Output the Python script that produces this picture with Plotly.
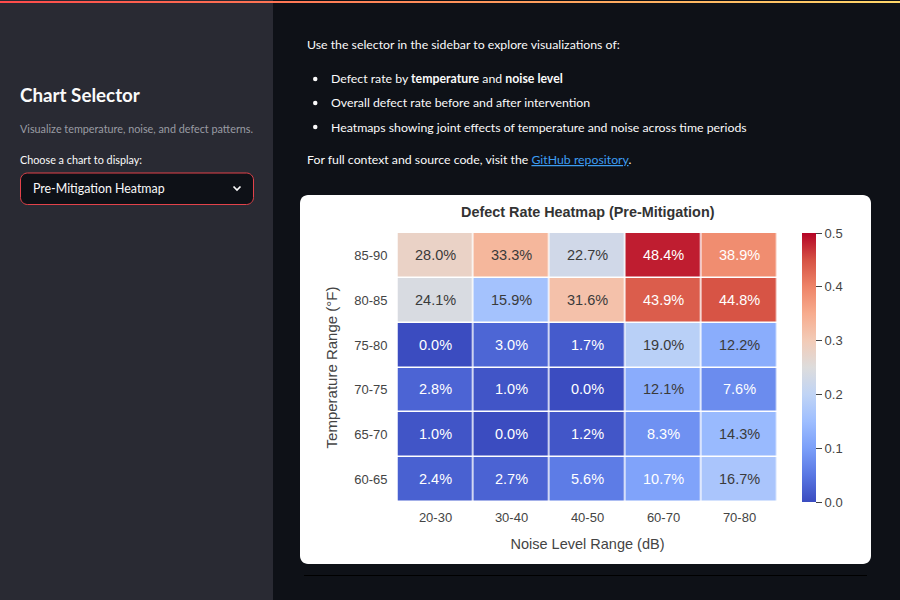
import plotly.graph_objects as go

noise_bins = ["20-30", "30-40", "40-50", "60-70", "70-80"]
temp_bins = ["60-65", "65-70", "70-75", "75-80", "80-85", "85-90"]
rate_60_65 = [2.4, 2.7, 5.6, 10.7, 16.7]
rate_65_70 = [1.0, 0.0, 1.2, 8.3, 14.3]
rate_70_75 = [2.8, 1.0, 0.0, 12.1, 7.6]
rate_75_80 = [0.0, 3.0, 1.7, 19.0, 12.2]
rate_80_85 = [24.1, 15.9, 31.6, 43.9, 44.8]
rate_85_90 = [28.0, 33.3, 22.7, 48.4, 38.9]
rows = [rate_60_65, rate_65_70, rate_70_75, rate_75_80, rate_80_85, rate_85_90]
colorbar_ticks = [0.0, 0.1, 0.2, 0.3, 0.4, 0.5]

W, H = 900, 600
UI = "Lato, Noto Sans, sans-serif"
CH = "Liberation Sans, Arial, sans-serif"
coolwarm = ["#3b4cc0", "#5977e3", "#7b9ff9", "#9ebeff", "#c0d4f5", "#dddcdc",
            "#f2cbb7", "#f7ac8e", "#ee8468", "#d65244", "#b40426"]
scale = [[i / 10, c] for i, c in enumerate(coolwarm)]

def px(x):
    return x / W

def py(y):
    return 1 - y / H

def rrect(x0, y0, x1, y1, r):
    a, b, c, d = px(x0), py(y0), px(x1), py(y1)
    k = r * 0.45
    return (f"M{px(x0 + r)},{b} L{px(x1 - r)},{b} "
            f"C{px(x1 - k)},{b} {c},{py(y0 + k)} {c},{py(y0 + r)} "
            f"L{c},{py(y1 - r)} C{c},{py(y1 - k)} {px(x1 - k)},{d} {px(x1 - r)},{d} "
            f"L{px(x0 + r)},{d} C{px(x0 + k)},{d} {a},{py(y1 - k)} {a},{py(y1 - r)} "
            f"L{a},{py(y0 + r)} C{a},{py(y0 + k)} {px(x0 + k)},{b} {px(x0 + r)},{b} Z")

shapes = []
def rect(x0, y0, x1, y1, color):
    shapes.append(dict(type="rect", xref="paper", yref="paper", x0=px(x0), x1=px(x1),
                       y0=py(y1), y1=py(y0), fillcolor=color, line_width=0, layer="below"))

rect(0, 0, 273, 600, "#292a33")
# top decoration gradient
n = 90
for i in range(n):
    t = i / (n - 1)
    col = f"rgb({255},{round(75 + t * (215 - 75))},{round(75 + t * (105 - 75))})"
    rect(i * W / n, 1, (i + 1) * W / n + 0.5, 3, col)
shapes.append(dict(type="path", xref="paper", yref="paper", path=rrect(300, 195, 871, 564, 8),
                   fillcolor="#ffffff", line_width=0, layer="below"))
shapes.append(dict(type="path", xref="paper", yref="paper", path=rrect(20.5, 173, 253.5, 204.5, 7),
                   fillcolor="#0e1117", line=dict(color="#e2424a", width=1), layer="below"))
shapes.append(dict(type="path", xref="paper", yref="paper",
                   path=f"M{px(233.5)},{py(186.5)} L{px(237)},{py(190)} L{px(240.5)},{py(186.5)}",
                   line=dict(color="#fafafa", width=1.7), layer="above"))
rect(304, 575, 867, 576, "#000000")

annotations = []
def label(x, y, text, size=12, color="#fafafa", family=UI, anchor="left"):
    annotations.append(dict(xref="paper", yref="paper", x=px(x), y=py(y), text=text, showarrow=False,
                            xanchor=anchor, yanchor="middle", font=dict(family=family, size=size, color=color),
                            borderpad=0, borderwidth=0))

label(20, 94, "<b>Chart Selector</b>", 18.8)
label(20, 128, "Visualize temperature, noise, and defect patterns.", 10.8, "#9a9ca3")
label(20, 159, "Choose a chart to display:", 10.8)
label(33, 188, "Pre-Mitigation Heatmap", 12.4)
label(307, 45, "Use the selector in the sidebar to explore visualizations of:", 12.3)
label(330.5, 79, "Defect rate by <b>temperature</b> and <b>noise level</b>", 12.3)
label(330.5, 103, "Overall defect rate before and after intervention", 12.3)
label(330.5, 127, "Heatmaps showing joint effects of temperature and noise across time periods", 12.3)
label(307, 160, 'For full context and source code, visit the <span style="color:#3d9df3"><u>GitHub repository</u></span>.', 12.3)
for yy in (79, 103, 127):
    shapes.append(dict(type="circle", xref="paper", yref="paper", x0=px(313), x1=px(317.5),
                       y0=py(yy + 2.2), y1=py(yy - 2.2), fillcolor="#fafafa", line_width=0, layer="above"))
label(587.5, 212, "<b>Defect Rate Heatmap (Pre-Mitigation)</b>", 14.4, "#333333", CH, "center")

DARK_MIN, DARK_MAX = 12.0, 35.0
for r, t in zip(rows, temp_bins):
    for v, nb in zip(r, noise_bins):
        dark = DARK_MIN <= v <= DARK_MAX
        annotations.append(dict(xref="x", yref="y", x=nb, y=t, text=f"{v:.1f}%", showarrow=False, yshift=0.5,
                                font=dict(family=CH, size=14.5, color="#3a3a3a" if dark else "#ffffff")))

fig = go.Figure(go.Heatmap(
    z=[[v / 100 for v in r] for r in rows], x=noise_bins, y=temp_bins,
    zmin=0, zmax=0.5, colorscale=scale, xgap=1.5, ygap=1.5,
    colorbar=dict(thickness=13.5, thicknessmode="pixels", len=269, lenmode="pixels",
                  x=px(802), xanchor="left", xpad=0, y=py(233), yanchor="top", ypad=0,
                  outlinewidth=0, tickvals=colorbar_ticks, tickformat=".1f", ticks="outside",
                  ticklen=6.5, tickcolor="#444444", tickwidth=1,
                  tickfont=dict(family=CH, size=13, color="#444444")),
))
fig.update_layout(
    width=W, height=H, margin=dict(l=0, r=0, t=0, b=0), autosize=False,
    paper_bgcolor="#0e1117", plot_bgcolor="rgba(0,0,0,0)",
    shapes=shapes, annotations=annotations,
    xaxis=dict(domain=[px(397.5), px(777.5)], type="category", categoryorder="array", categoryarray=noise_bins,
               showgrid=False, zeroline=False, showline=False, ticks="", ticklabelstandoff=6,
               tickfont=dict(family=CH, size=13, color="#444444"),
               title=dict(text="Noise Level Range (dB)", standoff=14,
                          font=dict(family=CH, size=14.5, color="#444444"))),
    yaxis=dict(domain=[py(502), py(233)], type="category", categoryorder="array", categoryarray=temp_bins,
               showgrid=False, zeroline=False, showline=False, ticks="", ticklabelstandoff=9,
               tickfont=dict(family=CH, size=13, color="#444444"),
               title=dict(text="Temperature Range (°F)", standoff=13,
                          font=dict(family=CH, size=15, color="#444444"))),
)
fig.write_html("out.html", config=dict(displayModeBar=False),
               post_script="document.body.style.margin='0';document.body.style.background='#0e1117';document.body.style.overflow='hidden';")
